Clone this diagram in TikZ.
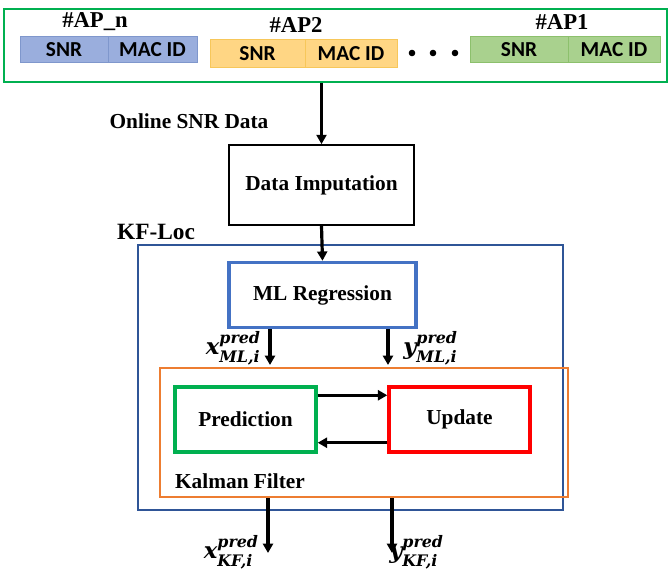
\documentclass[tikz,border=0pt]{standalone}
\usepackage{fontspec}
\usepackage{amsmath}
\setmainfont{Liberation Serif}
\newfontfamily\carlitofont{Carlito}
\newfontfamily\dvserif{DejaVu Serif}
\usetikzlibrary{arrows.meta}
\newcommand\predlab[2]{{\dvserif\bfseries\itshape #1$^{\text{pred}}_{\text{#2}}$}}
\definecolor{gbord}{HTML}{00B050}
\definecolor{bluefill}{HTML}{9AAEDD}
\definecolor{blueedge}{HTML}{7F97CC}
\definecolor{orfill}{HTML}{FFD684}
\definecolor{oredge}{HTML}{F7C75A}
\definecolor{grfill}{HTML}{A9D18E}
\definecolor{gredge}{HTML}{8CC06C}
\definecolor{kfblue}{HTML}{2F5597}
\definecolor{mlblue}{HTML}{4472C4}
\definecolor{kalor}{HTML}{ED7D31}
\definecolor{upred}{HTML}{FF0000}
\tikzset{
  field/.style={draw, line width=0.6pt, minimum height=19.5pt, inner sep=0pt, font=\carlitofont\bfseries\fontsize{16}{19}\selectfont},
  lbl/.style={font=\bfseries\fontsize{16}{19}\selectfont, inner sep=0pt},
  aplbl/.style={font=\bfseries\fontsize{17}{20}\selectfont, inner sep=0pt},
  blk/.style={draw, inner sep=0pt, font=\bfseries\fontsize{16}{19}\selectfont},
  arr/.style={line width=2.4pt, -{Triangle[length=7pt,width=7.5pt]}},
  mlab/.style={inner sep=0pt, font=\fontsize{17}{20}\selectfont},
}
\begin{document}
\begin{tikzpicture}[x=0.75pt,y=-0.75pt]
\useasboundingbox (0,0) rectangle (669,571);
% top green frame
\node[draw=gbord, line width=2.1pt, minimum width=663*0.75pt, minimum height=73*0.75pt, inner sep=0pt] (apframe) at (335.5,45.5) {};
% AP_n
\node[aplbl] (apnl) at (95,22) {\#AP\_n};
\node[field, fill=bluefill, draw=blueedge, minimum width=88*0.75pt] (snrn) at (64,49.5) {SNR};
\node[field, fill=bluefill, draw=blueedge, minimum width=89*0.75pt] (macn) at (152.5,49.5) {MAC ID};
% AP2
\node[aplbl] (ap2l) at (296,25) {\#AP2};
\node[field, fill=orfill, draw=oredge, minimum width=95*0.75pt, minimum height=21pt] (snr2) at (257.5,53.5) {SNR};
\node[field, fill=orfill, draw=oredge, minimum width=92*0.75pt, minimum height=21pt] (mac2) at (351,53.5) {MAC ID};
% dots
\fill (412,53) circle (3.3) (433,53) circle (3.3) (455,53) circle (3.3);
% AP1
\node[aplbl] (ap1l) at (562,22) {\#AP1};
\node[field, fill=grfill, draw=gredge, minimum width=98*0.75pt] (snr1) at (519,49.5) {SNR};
\node[field, fill=grfill, draw=gredge, minimum width=92*0.75pt] (mac1) at (614,49.5) {MAC ID};
% online SNR
\node[lbl] (online) at (189,121) {Online SNR Data};
\node[blk, minimum width=185*0.75pt, minimum height=80*0.75pt, line width=1.3pt] (imp) at (321.5,185) {Data Imputation};
\draw[arr] (apframe.south -| imp.north) -- (imp.north);
% KF-Loc
\node[lbl, font=\bfseries\fontsize{17.5}{20}\selectfont] (kflbl) at (156,232) {KF-Loc};
\node[draw=kfblue, line width=2.1pt, minimum width=425*0.75pt, minimum height=265*0.75pt, inner sep=0pt] (kf) at (350.5,377.5) {};
\node[blk, draw=mlblue, line width=2.6pt, minimum width=187*0.75pt, minimum height=65*0.75pt] (ml) at (322.5,295) {ML Regression};
\draw[arr] (imp.south) -- (ml.north);
% Kalman
\node[draw=kalor, line width=2.1pt, minimum width=408*0.75pt, minimum height=129*0.75pt, inner sep=0pt] (kal) at (364,432.5) {};
\node[lbl] (kallbl) at (240,481) {Kalman Filter};
\coordinate (xin) at (270,365);
\coordinate (yin) at (388,365);
\draw[arr] (ml.south -| xin) -- (xin);
\draw[arr] (ml.south -| yin) -- (yin);
\node[mlab, anchor=east] (xml) at (261,348) {\predlab{x}{ML,i}};
\node[mlab, anchor=west] (yml) at (403,348) {\predlab{y}{ML,i}};
\node[blk, draw=gbord, line width=2.6pt, minimum width=141*0.75pt, minimum height=65*0.75pt] (pred) at (245.5,419.5) {Prediction};
\node[blk, draw=upred, line width=2.6pt, minimum width=141*0.75pt, minimum height=65*0.75pt] (upd) at (459.5,419.5) {Update};
\draw[arr] ([yshift=-10*0.75pt]pred.north east) -- ([yshift=-10*0.75pt]upd.north west);
\draw[arr] ([yshift=11*0.75pt]upd.south west) -- ([yshift=11*0.75pt]pred.south east);
% outputs
\coordinate (xout) at (268,553);
\coordinate (yout) at (392,553);
\draw[arr] (kal.south -| xout) -- (xout);
\draw[arr] (kal.south -| yout) -- (yout);
\node[mlab, anchor=east] (xkf) at (259,552) {\predlab{x}{KF,i}};
\node[mlab, anchor=west] (ykf) at (389,552) {\predlab{y}{KF,i}};
\end{tikzpicture}
\end{document}
